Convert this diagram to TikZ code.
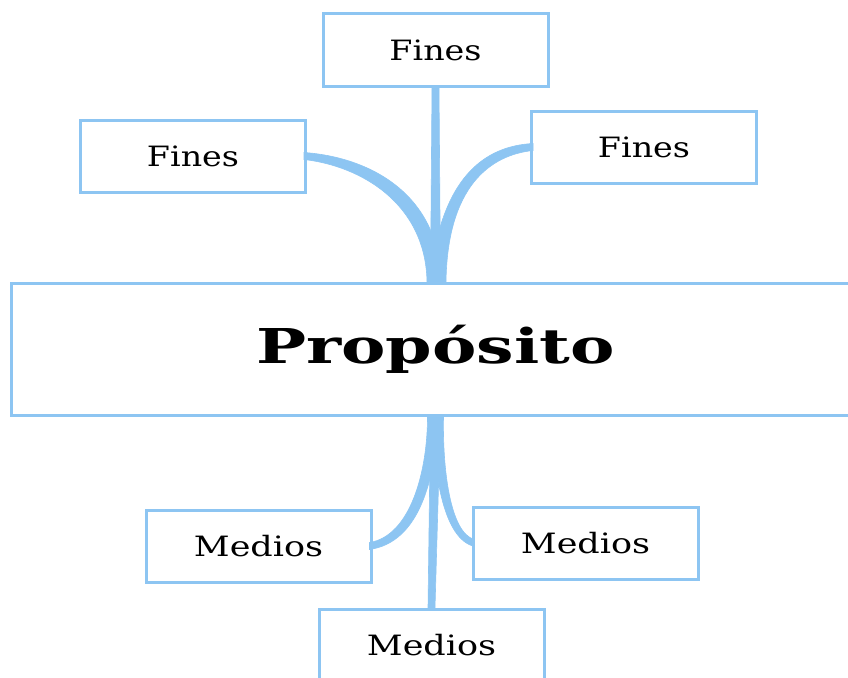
\documentclass[tikz,border=0pt]{standalone}
\usepackage{fontspec}
\setmainfont{DejaVu Serif}
\usetikzlibrary{calc}
\definecolor{linkblue}{RGB}{141,197,242}
\newcommand{\wide}[2]{\scalebox{#1}[1]{#2}}
\begin{document}
\begin{tikzpicture}[x=1pt,y=-1pt,
  card/.style={draw=linkblue,line width=3pt,fill=white,
    minimum width=225pt,minimum height=72pt,inner sep=0pt,
    font=\fontsize{28}{32}\selectfont},
  mainbox/.style={draw=linkblue,line width=3pt,fill=white,
    minimum width=849pt,minimum height=132pt,inner sep=0pt,
    font=\fontsize{48}{56}\selectfont\bfseries},
  link/.style={fill=linkblue,draw=linkblue,line width=0.6pt}
]
\useasboundingbox (0,0) rectangle (848,677);
\clip (0,0) rectangle (848,677);

% central purpose box
\node[mainbox] (prop) at (435.5,349) {\wide{1.387}{Propósito}};

% ends (above)
\node[card] (fT) at (435.5,50) {\wide{1.19}{Fines}};
\node[card] (fL) at (193,156) {\wide{1.19}{Fines}};
\node[card] (fR) at (644,147) {\wide{1.19}{Fines}};

% means (below)
\node[card] (mL) at (258.5,546) {\wide{1.25}{Medios}};
\node[card] (mR) at (585.5,543) {\wide{1.25}{Medios}};
\node[card] (mB) at (431.5,645) {\wide{1.25}{Medios}};

% upper connectors: tapered bands
\fill[link] ($(fT.south)+(-3.5,0)$) -- ($(fT.south)+(3.5,0)$)
  -- ($(prop.north)+(5,0)$) -- ($(prop.north)+(-5,0)$) -- cycle;
\fill[link] ($(fL.east)+(-3,-3.5)$)
  .. controls ($(fL.east)+(62,1)$) and ($(prop.north)+(4,-88)$) .. ($(prop.north)+(5.5,0)$)
  -- ($(prop.north)+(-8.5,0)$)
  .. controls ($(prop.north)+(-10,-78)$) and ($(fL.east)+(54,10)$) .. ($(fL.east)+(-3,3.5)$) -- cycle;
\fill[link] ($(fR.west)+(3,-3.5)$)
  .. controls ($(fR.west)+(-45,-1)$) and ($(prop.north)+(5,-105)$) .. ($(prop.north)+(-5.5,0)$)
  -- ($(prop.north)+(10.5,0)$)
  .. controls ($(prop.north)+(12,-95)$) and ($(fR.west)+(-40,8)$) .. ($(fR.west)+(3,3.5)$) -- cycle;

% lower connectors
\fill[link] ($(prop.south)+(-5,0)$) -- ($(prop.south)+(5,0)$)
  -- ($(mB.north)+(3.5,0)$) -- ($(mB.north)+(-3.5,0)$) -- cycle;
\fill[link] ($(mL.east)+(-3,3.5)$)
  .. controls ($(mL.east)+(48,-4)$) and ($(prop.south)+(-1,62)$) .. ($(prop.south)+(4,0)$)
  -- ($(prop.south)+(-8,0)$)
  .. controls ($(prop.south)+(-8,55)$) and ($(mL.east)+(38,-10)$) .. ($(mL.east)+(-3,-3.5)$) -- cycle;
\fill[link] ($(mR.west)+(3,3.5)$)
  .. controls ($(mR.west)+(-28,-4)$) and ($(prop.south)+(-1,60)$) .. ($(prop.south)+(-4,0)$)
  -- ($(prop.south)+(8,0)$)
  .. controls ($(prop.south)+(7,50)$) and ($(mR.west)+(-22,-10)$) .. ($(mR.west)+(3,-3.5)$) -- cycle;
\end{tikzpicture}
\end{document}
